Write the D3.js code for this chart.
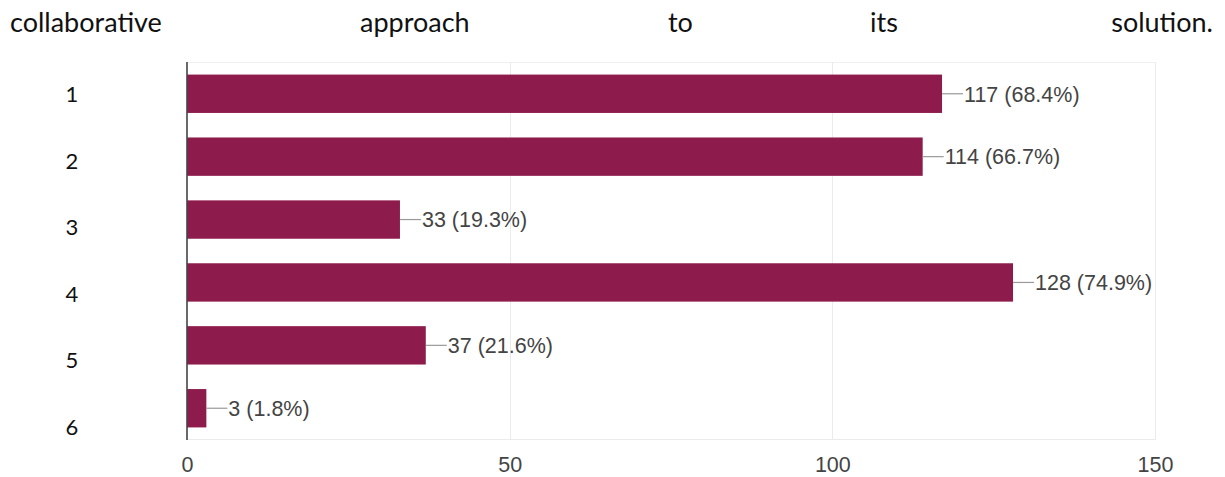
<!DOCTYPE html>
<html>
<head>
<meta charset="utf-8">
<script src="https://cdn.jsdelivr.net/npm/d3@7"></script>
<style>
  html, body { margin: 0; padding: 0; background: #fff; }
  svg { display: block; }
</style>
</head>
<body>
<svg id="chart" width="1225" height="477"></svg>
<script>
// Responses per option
const categories = ["1", "2", "3", "4", "5", "6"];
const counts = [117, 114, 33, 128, 37, 3];
const percents = ["68.4%", "66.7%", "19.3%", "74.9%", "21.6%", "1.8%"];
const xTicks = [0, 50, 100, 150];
const headerWords = ["collaborative", "approach", "to", "its", "solution."];

const svg = d3.select("#chart");
const plot = { left: 187, right: 1155, top: 62, bottom: 440 };

const x = d3.scaleLinear().domain([0, 150]).range([plot.left, plot.right]);
const y = d3.scaleBand().domain(categories).range([plot.top, plot.bottom]).paddingInner(0.39).paddingOuter(0.2);

// Header line of body text, justified across the page
const headerFont = "Lato, 'Open Sans', sans-serif";
const headerStarts = [10, 360, 668, 870];
const header = svg.append("g").attr("font-family", headerFont).attr("font-size", 27).attr("fill", "#111");
headerWords.forEach((w, i) => {
  const t = header.append("text").attr("y", 32).text(w);
  if (i < headerStarts.length) t.attr("x", headerStarts[i]);
  else t.attr("x", 1213).attr("text-anchor", "end");
});

// Plot frame and gridlines
const frame = svg.append("g");
frame.append("line").attr("x1", plot.left).attr("x2", plot.right)
  .attr("y1", plot.top + 0.5).attr("y2", plot.top + 0.5).attr("stroke", "#f0f0f0");
frame.append("line").attr("x1", plot.left).attr("x2", plot.right)
  .attr("y1", plot.bottom - 0.5).attr("y2", plot.bottom - 0.5).attr("stroke", "#ebebeb");
frame.selectAll("line.grid").data(xTicks.filter(d => d > 0)).join("line")
  .attr("class", "grid")
  .attr("x1", d => Math.round(x(d)) + 0.5).attr("x2", d => Math.round(x(d)) + 0.5)
  .attr("y1", plot.top).attr("y2", plot.bottom)
  .attr("stroke", "#ebebeb");

// Bars
svg.append("g").selectAll("rect").data(counts).join("rect")
  .attr("x", x(0))
  .attr("y", (d, i) => y(categories[i]))
  .attr("width", d => x(d) - x(0))
  .attr("height", y.bandwidth())
  .attr("fill", "#8d1b4b");

// Leader lines and value labels
const labels = svg.append("g").attr("font-family", "'Liberation Sans', Arial, sans-serif")
  .attr("font-size", 21.5).attr("fill", "#444");
counts.forEach((d, i) => {
  const cy = y(categories[i]) + y.bandwidth() / 2;
  labels.append("line").attr("x1", x(d)).attr("x2", x(d) + 21)
    .attr("y1", cy).attr("y2", cy).attr("stroke", "#999").attr("stroke-width", 1.2);
  labels.append("text").attr("x", x(d) + 22).attr("y", cy).attr("dy", "0.36em")
    .text(`${d} (${percents[i]})`);
});

// Vertical axis line
svg.append("line").attr("x1", plot.left).attr("x2", plot.left)
  .attr("y1", plot.top).attr("y2", plot.bottom)
  .attr("stroke", "#444").attr("stroke-width", 1.6);

// X axis tick labels
const xAxis = d3.axisBottom(x).tickValues(xTicks).tickSize(0).tickPadding(0);
const gx = svg.append("g").attr("transform", `translate(0,${plot.bottom})`).call(xAxis);
gx.select(".domain").remove();
gx.selectAll("text").attr("font-family", "'Liberation Sans', Arial, sans-serif")
  .attr("font-size", 21.5).attr("fill", "#444").attr("y", 17);

// Category labels in the document's body font
const yLab = d3.scalePoint().domain(categories).range([94, 427]);
svg.append("g").attr("font-family", headerFont).attr("font-size", 22).attr("fill", "#111")
  .selectAll("text").data(categories).join("text")
  .attr("x", 72).attr("y", d => yLab(d)).attr("dy", "0.36em")
  .attr("text-anchor", "middle").text(d => d);
</script>
</body>
</html>
